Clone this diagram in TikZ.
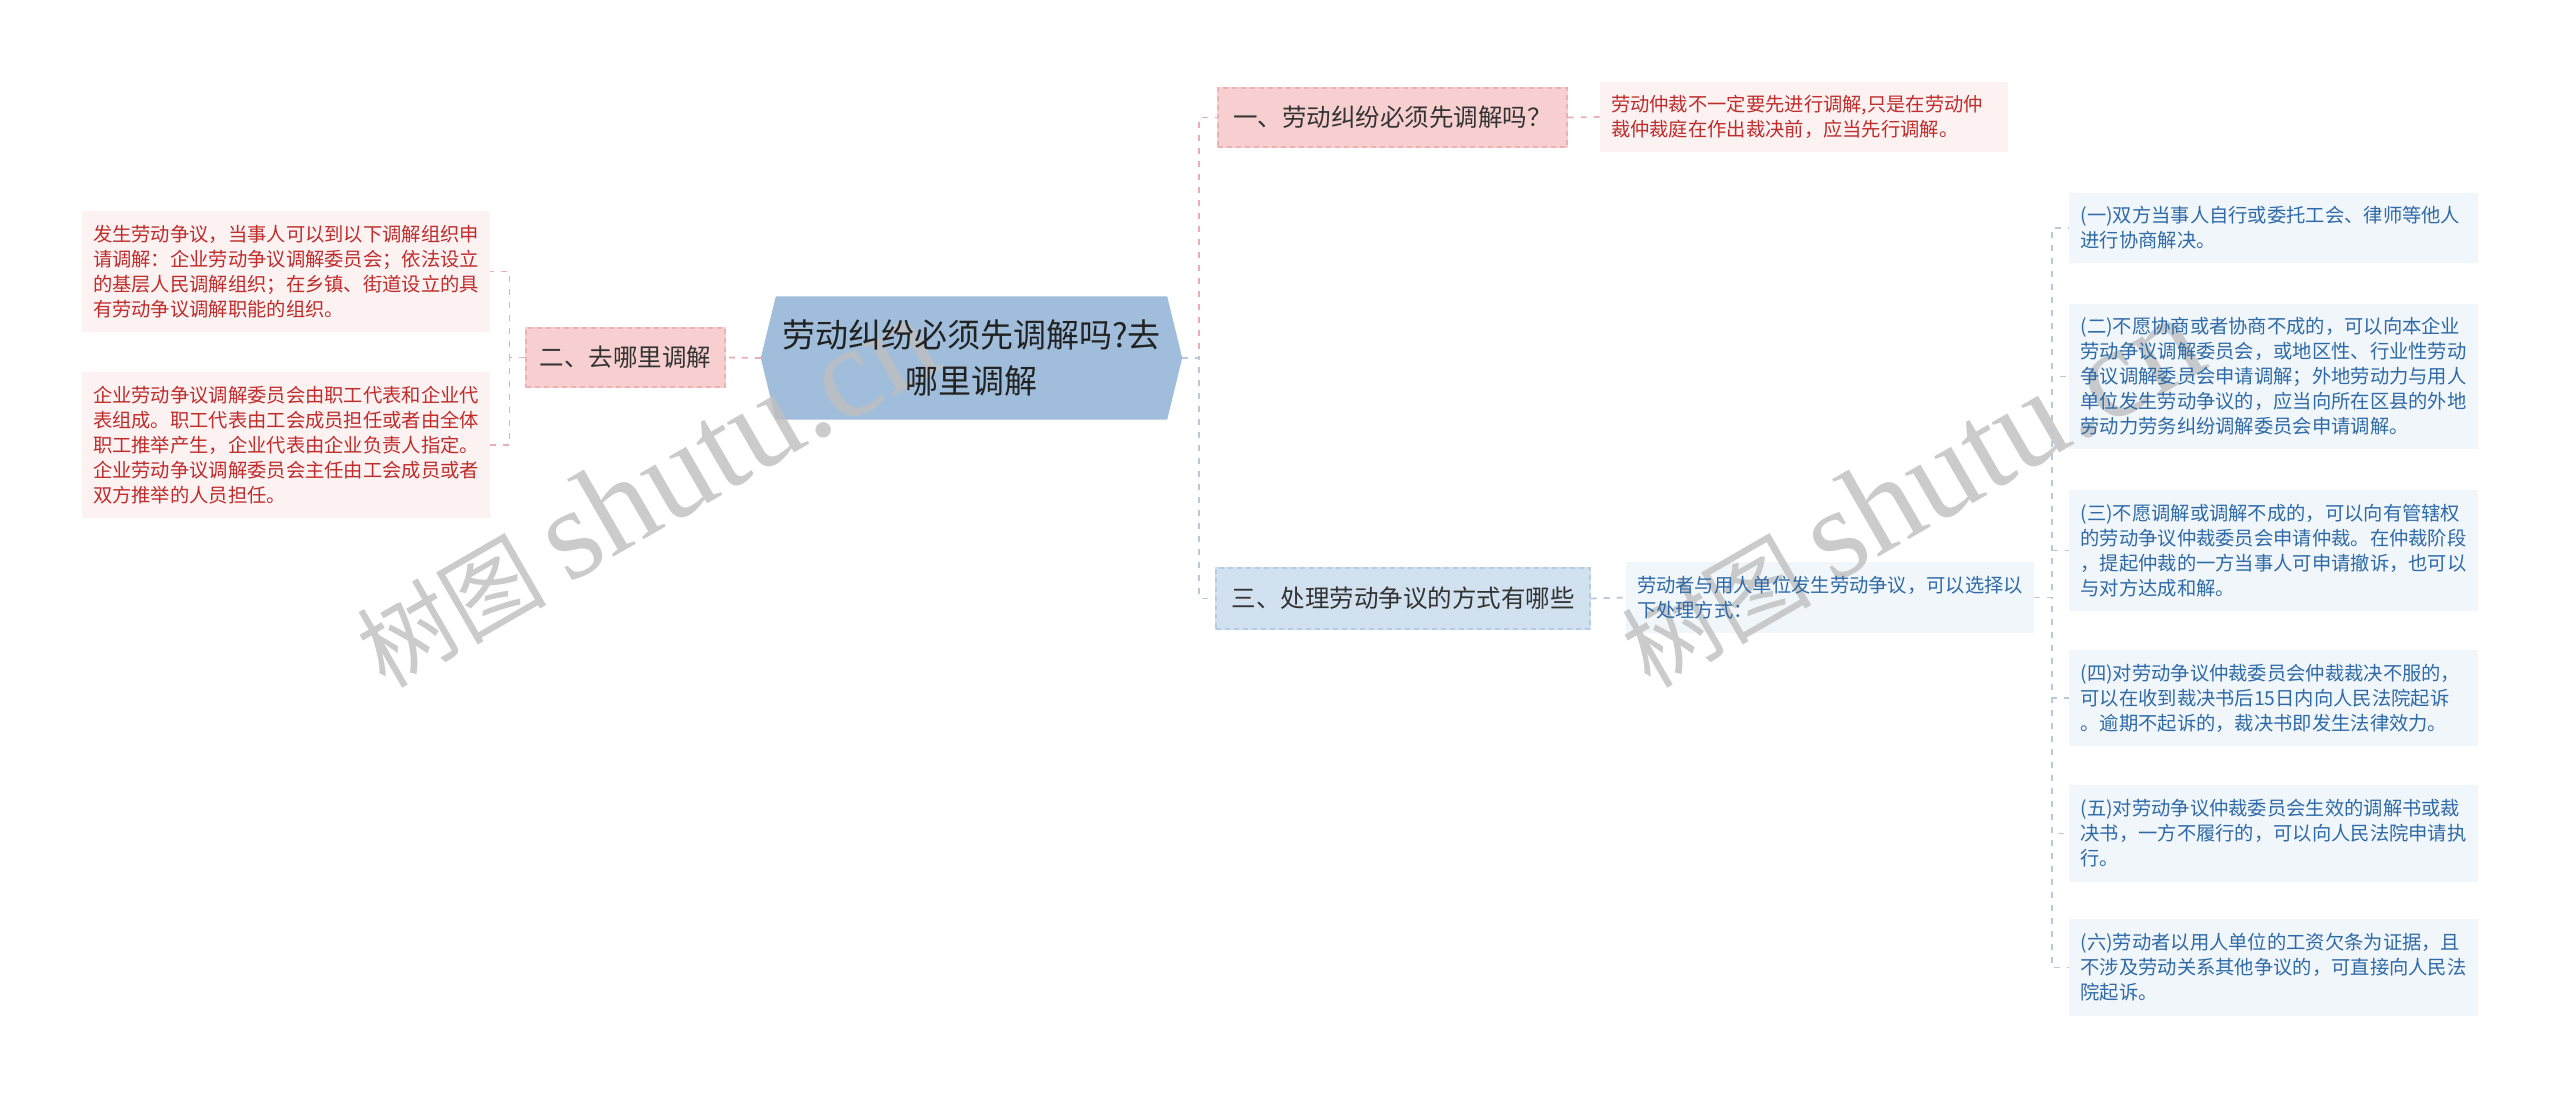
\documentclass[tikz,border=0pt]{standalone}
\usepackage{fontspec}
\setmainfont{Noto Sans CJK SC}
\newfontfamily\wmlatin{Liberation Serif}
\pgfdeclarelayer{bg}
\pgfdeclarelayer{wm}
\pgfsetlayers{bg,wm,main}
\definecolor{pinkline}{HTML}{E9AFB3}
\definecolor{blueline}{HTML}{B9C9DC}
\definecolor{hexfill}{HTML}{A0BEDB}
\definecolor{pinkonefill}{HTML}{F7CFD0}
\definecolor{pinkonebord}{HTML}{EDB1B4}
\definecolor{blueonefill}{HTML}{D2E1EF}
\definecolor{blueonebord}{HTML}{B5CCE2}
\definecolor{pinkleaffill}{HTML}{FDF2F2}
\definecolor{blueleaffill}{HTML}{F1F6FB}
\definecolor{pinktext}{HTML}{BF2C2C}
\definecolor{bluetext}{HTML}{2E6AA6}
\definecolor{onetext}{HTML}{333333}
\definecolor{hextext}{HTML}{222222}
\definecolor{wmgray}{HTML}{BEBEBE}
\begin{document}
\begin{tikzpicture}[x=1pt,y=-1pt,
  centernode/.style={minimum width=421pt, minimum height=123pt, inner sep=0pt, align=center,
    font=\fontsize{33}{46}\selectfont, text=hextext},
  lvone/.style={minimum height=59pt, inner sep=0pt, font=\fontsize{24.5}{30}\selectfont, text=onetext,
    dash pattern=on 5pt off 4pt, line width=1.2pt},
  pinkone/.style={lvone, draw=pinkonebord},
  blueone/.style={lvone, draw=blueonebord},
  leaf/.style={text width=386pt, align=left, inner xsep=11pt, inner ysep=0pt,
    font=\fontsize{19.3}{25}\selectfont},
  pinkleaf/.style={leaf, text=pinktext},
  blueleaf/.style={leaf, text=bluetext},
  htwo/.style={minimum height=70pt},
  hthree/.style={minimum height=96pt},
  hfour/.style={minimum height=120pt},
  hfive/.style={minimum height=145pt},
  pinkdash/.style={draw=pinkline, line width=1.8pt, dash pattern=on 6pt off 7pt},
  bluedash/.style={draw=blueline, line width=1.8pt, dash pattern=on 6pt off 7pt},
  wmark/.style={anchor=base west, rotate=30, inner sep=0pt, text=wmgray, text opacity=0.8,
    font=\fontsize{95}{95}\selectfont}
]
\useasboundingbox (0,0) rectangle (2560,1099);

% central node
\node[centernode] (c) at (971.5,358) {劳动纠纷必须先调解吗?去\\哪里调解};

% level one
\node[pinkone, minimum width=199pt] (er) at (625.5,357.5) {二、去哪里调解};
\node[pinkone, minimum width=349pt] (yi) at (1392.5,117.5) {一、劳动纠纷必须先调解吗？};
\node[blueone, minimum width=374pt, minimum height=61pt] (san) at (1403,598.5) {三、处理劳动争议的方式有哪些};

% left leaves
\node[pinkleaf, hfour] (l1) at (286,271.5) {发生劳动争议，当事人可以到以下调解组织申\\请调解：企业劳动争议调解委员会；依法设立\\的基层人民调解组织；在乡镇、街道设立的具\\有劳动争议调解职能的组织。};
\node[pinkleaf, hfive] (l2) at (286,445) {企业劳动争议调解委员会由职工代表和企业代\\表组成。职工代表由工会成员担任或者由全体\\职工推举产生，企业代表由企业负责人指定。\\企业劳动争议调解委员会主任由工会成员或者\\双方推举的人员担任。};

% top leaf
\node[pinkleaf, htwo] (t1) at (1804,117) {劳动仲裁不一定要先进行调解,只是在劳动仲\\裁仲裁庭在作出裁决前，应当先行调解。};

% middle leaf
\node[blueleaf, htwo] (m1) at (1830,597.5) {劳动者与用人单位发生劳动争议，可以选择以\\下处理方式：};

% right leaves
\node[blueleaf, htwo] (r1) at (2273.5,228) {(一)双方当事人自行或委托工会、律师等他人\\进行协商解决。};
\node[blueleaf, hfive] (r2) at (2273.5,376.5) {(二)不愿协商或者协商不成的，可以向本企业\\劳动争议调解委员会，或地区性、行业性劳动\\争议调解委员会申请调解；外地劳动力与用人\\单位发生劳动争议的，应当向所在区县的外地\\劳动力劳务纠纷调解委员会申请调解。};
\node[blueleaf, hfour] (r3) at (2273.5,550.5) {(三)不愿调解或调解不成的，可以向有管辖权\\的劳动争议仲裁委员会申请仲裁。在仲裁阶段\\，提起仲裁的一方当事人可申请撤诉，也可以\\与对方达成和解。};
\node[blueleaf, hthree] (r4) at (2273.5,698) {(四)对劳动争议仲裁委员会仲裁裁决不服的，\\可以在收到裁决书后15日内向人民法院起诉\\。逾期不起诉的，裁决书即发生法律效力。};
\node[blueleaf, hthree] (r5) at (2273.5,833.5) {(五)对劳动争议仲裁委员会生效的调解书或裁\\决书，一方不履行的，可以向人民法院申请执\\行。};
\node[blueleaf, hthree] (r6) at (2273.5,967.5) {(六)劳动者以用人单位的工资欠条为证据，且\\不涉及劳动关系其他争议的，可直接向人民法\\院起诉。};

% fills
\begin{pgfonlayer}{bg}
\fill[hexfill] (c.west) -- ([xshift=15pt]c.north west) -- ([xshift=-15pt]c.north east) -- (c.east)
  -- ([xshift=-15pt]c.south east) -- ([xshift=15pt]c.south west) -- cycle;
\fill[pinkonefill] (er.north west) rectangle (er.south east);
\fill[pinkonefill] (yi.north west) rectangle (yi.south east);
\fill[blueonefill] (san.north west) rectangle (san.south east);
\foreach \n in {l1,l2,t1} \fill[pinkleaffill] (\n.north west) rectangle (\n.south east);
\foreach \n in {m1,r1,r2,r3,r4,r5,r6} \fill[blueleaffill] (\n.north west) rectangle (\n.south east);
\end{pgfonlayer}

% watermark
\begin{pgfonlayer}{wm}
\node[wmark] (w1) at (385,690) {树图 {\wmlatin\fontsize{130}{130}\selectfont shutu.cn}};
\node[wmark] (w2) at (1650,690) {树图 {\wmlatin\fontsize{130}{130}\selectfont shutu.cn}};
\end{pgfonlayer}

% connectors
\draw[pinkdash] (c.west) -- (er.east);
\draw[pinkdash] (er.west) -- ++(-16,0) |- (l1.east);
\draw[pinkdash] (er.west) -- ++(-16,0) |- (l2.east);
\draw[pinkdash] (c.east) -- ++(17,0) |- (yi.west);
\draw[bluedash] (c.east) -- ++(17,0) |- (san.west);
\draw[pinkdash] (yi.east) -- (t1.west);
\draw[bluedash] (san.east) -- (m1.west);
\foreach \r in {r1,r2,r3,r4,r5,r6} \draw[bluedash] (m1.east) -- ++(18,0) |- (\r.west);
\end{tikzpicture}
\end{document}
